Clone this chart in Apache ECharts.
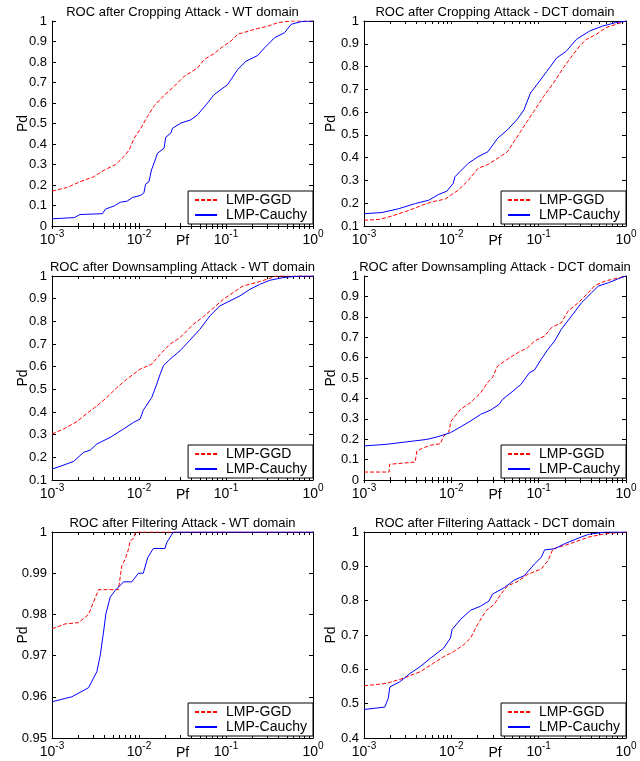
<!DOCTYPE html>
<html>
<head>
<meta charset="utf-8">
<script src="https://cdn.jsdelivr.net/npm/echarts@6/dist/echarts.min.js"></script>
<style>
  html, body { margin: 0; padding: 0; background: #fff; }
  #chart { width: 640px; height: 761px; }
</style>
</head>
<body>
<div id="chart"></div>
<script>
// 图例名
const seriesNames = ['LMP-GGD', 'LMP-Cauchy']
const xTicks = [0.001, 0.01, 0.1, 1]

// 1. Cropping - WT
const cropWtGgdPf = [0.001, 0.0015, 0.0021, 0.003, 0.004, 0.0054, 0.0067, 0.0077, 0.0088, 0.0105, 0.0125, 0.015, 0.0194, 0.0253, 0.033, 0.047, 0.056, 0.073, 0.088, 0.114, 0.136, 0.212, 0.303, 0.395, 0.56, 1]
const cropWtGgdPd = [0.17, 0.188, 0.216, 0.24, 0.273, 0.30, 0.338, 0.371, 0.428, 0.477, 0.534, 0.587, 0.637, 0.681, 0.73, 0.771, 0.812, 0.841, 0.869, 0.902, 0.935, 0.959, 0.975, 0.992, 1.0, 1.0]
const cropWtCauchyPf = [0.001, 0.0018, 0.0021, 0.0038, 0.0041, 0.0052, 0.0061, 0.0073, 0.0084, 0.0105, 0.0114, 0.0119, 0.013, 0.0139, 0.0152, 0.0163, 0.0194, 0.0203, 0.0232, 0.0243, 0.0303, 0.0395, 0.047, 0.059, 0.073, 0.1045, 0.136, 0.17, 0.232, 0.277, 0.361, 0.471, 0.562, 0.733, 1]
const cropWtCauchyPd = [0.035, 0.041, 0.056, 0.06, 0.082, 0.098, 0.116, 0.121, 0.139, 0.15, 0.162, 0.204, 0.216, 0.273, 0.317, 0.355, 0.379, 0.433, 0.453, 0.477, 0.502, 0.518, 0.542, 0.591, 0.641, 0.69, 0.763, 0.804, 0.832, 0.869, 0.918, 0.943, 0.984, 0.997, 1.0]

// 2. Cropping - DCT
const cropDctGgdPf = [0.001, 0.0015, 0.0021, 0.0033, 0.0046, 0.006, 0.0085, 0.0101, 0.012, 0.0156, 0.0202, 0.0262, 0.0339, 0.0439, 0.0523, 0.0621, 0.0738, 0.0879, 0.114, 0.148, 0.191, 0.248, 0.295, 0.351, 0.455, 0.59, 0.764, 1]
const cropDctGgdPd = [0.125, 0.129, 0.144, 0.169, 0.191, 0.206, 0.218, 0.238, 0.257, 0.30, 0.353, 0.37, 0.397, 0.426, 0.471, 0.515, 0.559, 0.603, 0.669, 0.728, 0.794, 0.853, 0.89, 0.919, 0.941, 0.971, 0.985, 1.0]
const cropDctCauchyPf = [0.001, 0.0016, 0.0025, 0.0039, 0.0055, 0.0071, 0.0089, 0.0105, 0.011, 0.0125, 0.0156, 0.0202, 0.0262, 0.0339, 0.0439, 0.057, 0.0678, 0.0806, 0.0957, 0.124, 0.161, 0.208, 0.27, 0.383, 0.541, 0.764, 1]
const cropDctCauchyPd = [0.154, 0.159, 0.176, 0.199, 0.213, 0.238, 0.253, 0.287, 0.316, 0.338, 0.375, 0.404, 0.426, 0.485, 0.522, 0.569, 0.61, 0.684, 0.721, 0.779, 0.838, 0.868, 0.919, 0.956, 0.978, 0.993, 1.0]

// 3. Downsampling - WT
const downWtGgdPf = [0.001, 0.00136, 0.00194, 0.00252, 0.00328, 0.00427, 0.00557, 0.00725, 0.0103, 0.014, 0.0175, 0.0227, 0.0296, 0.0421, 0.0548, 0.0713, 0.0929, 0.121, 0.157, 0.224, 0.292, 0.38, 1]
const downWtGgdPd = [0.303, 0.325, 0.358, 0.394, 0.427, 0.464, 0.508, 0.545, 0.589, 0.611, 0.655, 0.699, 0.728, 0.787, 0.82, 0.858, 0.897, 0.927, 0.956, 0.971, 0.985, 1.0, 1.0]
const downWtCauchyPf = [0.001, 0.0013, 0.00177, 0.00231, 0.00275, 0.00328, 0.00467, 0.00664, 0.00863, 0.0103, 0.0112, 0.014, 0.016, 0.0175, 0.0191, 0.0227, 0.0296, 0.0385, 0.0501, 0.0653, 0.0851, 0.111, 0.144, 0.188, 0.244, 0.318, 0.453, 0.703, 1]
const downWtCauchyPd = [0.148, 0.163, 0.182, 0.222, 0.232, 0.259, 0.288, 0.325, 0.354, 0.369, 0.408, 0.464, 0.523, 0.567, 0.604, 0.633, 0.67, 0.717, 0.765, 0.824, 0.868, 0.89, 0.912, 0.941, 0.963, 0.981, 0.993, 1.0, 1.0]

// 4. Downsampling - DCT
const downDctGgdPf = [0.001, 0.00194, 0.00196, 0.00385, 0.00403, 0.00481, 0.00574, 0.00749, 0.00818, 0.00934, 0.00994, 0.0111, 0.0127, 0.0166, 0.0217, 0.0259, 0.0296, 0.0338, 0.044, 0.0575, 0.075, 0.0895, 0.117, 0.14, 0.182, 0.217, 0.284, 0.37, 0.442, 0.577, 0.751, 1]
const downDctGgdPd = [0.039, 0.039, 0.077, 0.088, 0.142, 0.158, 0.17, 0.178, 0.216, 0.235, 0.289, 0.314, 0.346, 0.379, 0.428, 0.477, 0.502, 0.559, 0.592, 0.624, 0.649, 0.681, 0.706, 0.747, 0.771, 0.828, 0.869, 0.918, 0.954, 0.975, 0.987, 1.0]
const downDctCauchyPf = [0.001, 0.00181, 0.00368, 0.00525, 0.00685, 0.00977, 0.0127, 0.0166, 0.0217, 0.0283, 0.0353, 0.0386, 0.0482, 0.0628, 0.0784, 0.0895, 0.107, 0.128, 0.152, 0.182, 0.238, 0.31, 0.404, 0.483, 0.63, 0.822, 1]
const downDctCauchyPd = [0.167, 0.175, 0.191, 0.199, 0.211, 0.232, 0.26, 0.289, 0.322, 0.343, 0.371, 0.395, 0.428, 0.469, 0.526, 0.539, 0.592, 0.641, 0.681, 0.739, 0.804, 0.869, 0.918, 0.951, 0.967, 0.987, 1.0]

// 5. Filtering - WT
const filtWtGgdPf = [0.001, 0.00142, 0.00202, 0.00263, 0.00343, 0.0058, 0.00634, 0.00693, 0.00757, 0.00789, 0.0086, 0.0092, 1]
const filtWtGgdPd = [0.9765, 0.9777, 0.978, 0.98, 0.986, 0.986, 0.9918, 0.9934, 0.9958, 0.9978, 0.9984, 1.0, 1.0]
const filtWtCauchyPf = [0.001, 0.00169, 0.00263, 0.00328, 0.00358, 0.00391, 0.00416, 0.00467, 0.00532, 0.00664, 0.00826, 0.00986, 0.0112, 0.0126, 0.0146, 0.0199, 0.0208, 0.0248, 1]
const filtWtCauchyPd = [0.9588, 0.960, 0.9622, 0.9661, 0.970, 0.9757, 0.9801, 0.9842, 0.9858, 0.9879, 0.9879, 0.990, 0.990, 0.9938, 0.996, 0.996, 0.9974, 1.0, 1.0]

// 6. Filtering - DCT
const filtDctGgdPf = [0.001, 0.00181, 0.00282, 0.0044, 0.00627, 0.00818, 0.0107, 0.0139, 0.0166, 0.0199, 0.0248, 0.0309, 0.0369, 0.044, 0.0575, 0.075, 0.107, 0.128, 0.146, 0.199, 0.26, 0.37, 0.577, 1]
const filtDctGgdPd = [0.552, 0.559, 0.574, 0.593, 0.618, 0.637, 0.652, 0.672, 0.691, 0.73, 0.77, 0.789, 0.819, 0.843, 0.856, 0.877, 0.892, 0.917, 0.951, 0.961, 0.971, 0.985, 0.995, 1.0]
const filtDctCauchyPf = [0.001, 0.00173, 0.00189, 0.00198, 0.00258, 0.00337, 0.0044, 0.00574, 0.00818, 0.00977, 0.0102, 0.0127, 0.0166, 0.0217, 0.027, 0.0296, 0.0404, 0.0526, 0.0687, 0.0895, 0.107, 0.117, 0.152, 0.199, 0.284, 0.37, 0.577, 1]
const filtDctCauchyPd = [0.483, 0.49, 0.515, 0.549, 0.564, 0.588, 0.608, 0.632, 0.662, 0.691, 0.716, 0.745, 0.772, 0.784, 0.799, 0.819, 0.838, 0.86, 0.873, 0.907, 0.926, 0.948, 0.951, 0.966, 0.982, 0.993, 1.0, 1.0]

const panels = [
  { title: 'ROC after Cropping Attack - WT domain', yMin: 0, yMax: 1, yStep: 0.1,
    ggd: [cropWtGgdPf, cropWtGgdPd], cauchy: [cropWtCauchyPf, cropWtCauchyPd] },
  { title: 'ROC after Cropping Attack - DCT domain', yMin: 0.1, yMax: 1, yStep: 0.1,
    ggd: [cropDctGgdPf, cropDctGgdPd], cauchy: [cropDctCauchyPf, cropDctCauchyPd] },
  { title: 'ROC after Downsampling Attack - WT domain', yMin: 0.1, yMax: 1, yStep: 0.1,
    ggd: [downWtGgdPf, downWtGgdPd], cauchy: [downWtCauchyPf, downWtCauchyPd] },
  { title: 'ROC after Downsampling Attack - DCT domain', yMin: 0, yMax: 1, yStep: 0.1,
    ggd: [downDctGgdPf, downDctGgdPd], cauchy: [downDctCauchyPf, downDctCauchyPd] },
  { title: 'ROC after Filtering Attack - WT domain', yMin: 0.95, yMax: 1, yStep: 0.01,
    ggd: [filtWtGgdPf, filtWtGgdPd], cauchy: [filtWtCauchyPf, filtWtCauchyPd] },
  { title: 'ROC after Filtering Aattack - DCT domain', yMin: 0.4, yMax: 1, yStep: 0.1,
    ggd: [filtDctGgdPf, filtDctGgdPd], cauchy: [filtDctCauchyPf, filtDctCauchyPd] }
]

// 每个子图的绘图区 (像素)
const cols = [{ left: 52, width: 261 }, { left: 364, width: 262 }]
const rows = [{ top: 21, height: 205 }, { top: 276, height: 204 }, { top: 532, height: 206 }]

const FONT = 'Liberation Sans, Arial, Helvetica, sans-serif'

// log 轴的小刻度: 1..9 x 10^k
const minorTicks = []
for (let k = -3; k < 0; k++) {
  for (let m = 1; m <= 9; m++) minorTicks.push(+(m * Math.pow(10, k)).toPrecision(3))
}
minorTicks.push(1)

function zip(xs, ys) {
  return xs.map((x, i) => [x, ys[i]])
}

const chart = echarts.init(document.getElementById('chart'), null, { renderer: 'canvas' })

const grid = []
const xAxis = []
const yAxis = []
const series = []
const title = []
const legend = []

panels.forEach((p, i) => {
  const c = cols[i % 2]
  const r = rows[Math.floor(i / 2)]
  grid.push({
    left: c.left, top: r.top, width: c.width, height: r.height,
    containLabel: false, outerBoundsMode: 'none'
  })

  title.push({
    text: p.title,
    left: c.left + c.width / 2,
    top: r.top - 15,
    textAlign: 'center',
    padding: 0,
    textStyle: { fontFamily: FONT, fontSize: 13, fontWeight: 'normal', color: '#000' }
  })

  const xBase = {
    type: 'log', logBase: 10, min: 0.001, max: 1, gridIndex: i,
    axisLine: { show: true, lineStyle: { color: '#000', width: 1 } },
    axisTick: { show: true, inside: true, length: 3, customValues: minorTicks, lineStyle: { color: '#000' } },
    splitLine: { show: false },
    minorTick: { show: false }
  }
  xAxis.push(Object.assign({}, xBase, {
    position: 'bottom',
    name: 'Pf',
    nameLocation: 'middle',
    nameGap: 8,
    nameMoveOverlap: false,
    nameTextStyle: { fontFamily: FONT, fontSize: 14, color: '#000', verticalAlign: 'top' },
    axisLabel: {
      show: true,
      margin: 3,
      customValues: xTicks,
      formatter: (v) => '{b|10}{s|' + Math.round(Math.log10(v)) + '}',
      rich: {
        b: { fontFamily: FONT, fontSize: 14, color: '#000', lineHeight: 18, verticalAlign: 'bottom' },
        s: { fontFamily: FONT, fontSize: 10, color: '#000', verticalAlign: 'top' }
      }
    }
  }))
  xAxis.push(Object.assign({}, xBase, { position: 'top', axisLabel: { show: false } }))

  const yBase = {
    type: 'value', min: p.yMin, max: p.yMax, interval: p.yStep, gridIndex: i,
    axisLine: { show: true, lineStyle: { color: '#000', width: 1 } },
    axisTick: { show: true, inside: true, length: 4, lineStyle: { color: '#000' } },
    splitLine: { show: false }
  }
  yAxis.push(Object.assign({}, yBase, {
    position: 'left',
    name: 'Pd',
    nameLocation: 'middle',
    nameGap: i % 2 === 0 ? 22 : 26,
    nameMoveOverlap: false,
    nameTextStyle: { fontFamily: FONT, fontSize: 14, color: '#000' },
    axisLabel: { show: true, margin: 5, fontFamily: FONT, fontSize: 13, color: '#000' }
  }))
  yAxis.push(Object.assign({}, yBase, { position: 'right', axisLabel: { show: false } }))

  series.push({
    name: seriesNames[0], type: 'line', xAxisIndex: 2 * i, yAxisIndex: 2 * i,
    data: zip(p.ggd[0], p.ggd[1]), symbol: 'none', smooth: false,
    lineStyle: { color: '#ff0000', width: 1, type: [4, 2] }, itemStyle: { color: '#ff0000' },
    animation: false
  })
  series.push({
    name: seriesNames[1], type: 'line', xAxisIndex: 2 * i, yAxisIndex: 2 * i,
    data: zip(p.cauchy[0], p.cauchy[1]), symbol: 'none', smooth: false,
    lineStyle: { color: '#0000ff', width: 1 }, itemStyle: { color: '#0000ff' },
    animation: false
  })

  legend.push({
    data: seriesNames,
    orient: 'vertical',
    right: 640 - (c.left + c.width),
    bottom: 761 - (r.top + r.height) + 2,
    backgroundColor: '#fff',
    borderColor: '#000',
    borderWidth: 1,
    borderRadius: 0,
    padding: [2, 6, 2, 6],
    itemWidth: 22,
    itemHeight: 14,
    itemGap: 1,
    selectedMode: false,
    itemStyle: { opacity: 0 },
    textStyle: { fontFamily: FONT, fontSize: 14, color: '#000', padding: [0, 0, 0, 4] }
  })
})

const option = {
  backgroundColor: '#fff',
  animation: false,
  title,
  grid,
  xAxis,
  yAxis,
  legend,
  series
}

chart.setOption(option)
</script>
</body>
</html>
